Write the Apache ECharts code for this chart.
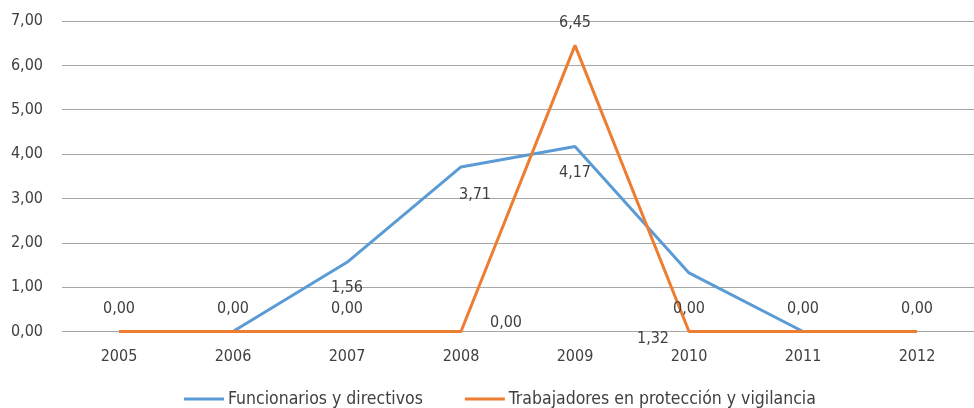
<!DOCTYPE html>
<html>
<head>
<meta charset="utf-8">
<script src="https://cdn.jsdelivr.net/npm/echarts@6/dist/echarts.min.js"></script>
<style>
  html, body { margin: 0; padding: 0; background: #fff; }
  #chart { width: 974px; height: 408px; }
</style>
</head>
<body>
<div id="chart"></div>
<script>
// Years on the category axis
const years = ['2005', '2006', '2007', '2008', '2009', '2010', '2011', '2012'];

// Series values
const funcionarios = [0, 0, 1.56, 3.71, 4.17, 1.32, 0, 0];
const trabajadores = [0, 0, 0, 0, 6.45, 0, 0, 0];

// Value axis ticks
const yTicks = [0, 1, 2, 3, 4, 5, 6, 7];

const seriesNames = ['Funcionarios y directivos', 'Trabajadores en protección y vigilancia'];

// Label placement per point (kept apart from the values)
const blueLabelPlacement = [
  { position: 'top' }, { position: 'top' }, { position: 'bottom' },
  { position: 'bottom', offset: [14, 2] }, { position: 'bottom' },
  { position: 'bottom', offset: [-36, 40] }, { position: 'top' }, { position: 'top' }
];
// Zero labels that sit exactly on top of the blue ones are drawn once
const orangeLabelPlacement = [
  { show: false }, { show: false }, { position: 'top' },
  { position: 'top', offset: [45, 14] }, { position: 'top' },
  { position: 'top' }, { show: false }, { show: false }
];

const fmt = v => Number(v).toFixed(2).replace('.', ',');
const font = '"Liberation Sans Narrow", "DejaVu Sans Condensed", Lato, sans-serif';
const fs = 16;
const textColor = '#404040';

function build(values, placement) {
  return values.map((v, i) => ({
    value: v,
    label: Object.assign({}, placement[i], {
      distance: placement[i].position === 'bottom' ? 18 : 15
    })
  }));
}

const chart = echarts.init(document.getElementById('chart'), null, { renderer: 'canvas' });
chart.setOption({
  animation: false,
  backgroundColor: '#ffffff',
  textStyle: { fontFamily: font },
  grid: { left: 62, width: 915, top: 21, bottom: 76.5, containLabel: false },
  legend: {
    top: 385,
    left: 179,
    itemGap: 42,
    itemWidth: 40,
    itemHeight: 3,
    icon: 'rect',
    textStyle: { fontFamily: font, fontSize: 17.5, color: textColor, padding: [0, 0, 0, -1] },
    data: seriesNames
  },
  xAxis: {
    type: 'category',
    data: years,
    boundaryGap: true,
    axisLine: { show: false },
    axisTick: { show: false },
    axisLabel: { fontFamily: font, fontSize: fs, color: textColor, margin: 17 }
  },
  yAxis: {
    type: 'value',
    min: yTicks[0],
    max: yTicks[yTicks.length - 1],
    interval: 1,
    axisLine: { show: false },
    axisTick: { show: false },
    axisLabel: { fontFamily: font, fontSize: fs, color: textColor, margin: 19, formatter: fmt },
    splitLine: { lineStyle: { color: '#a6a6a6', width: 1 } }
  },
  series: [
    {
      name: seriesNames[0],
      type: 'line',
      data: build(funcionarios, blueLabelPlacement),
      symbol: 'circle',
      symbolSize: 0,
      color: '#5B9BD5',
      lineStyle: { color: '#5B9BD5', width: 3 },
      label: { show: true, fontFamily: font, fontSize: fs, color: textColor, formatter: p => fmt(p.value) },
      emphasis: { disabled: true },
      z: 2
    },
    {
      name: seriesNames[1],
      type: 'line',
      data: build(trabajadores, orangeLabelPlacement),
      symbol: 'circle',
      symbolSize: 0,
      color: '#ED7D31',
      lineStyle: { color: '#ED7D31', width: 3 },
      label: { show: true, fontFamily: font, fontSize: fs, color: textColor, formatter: p => fmt(p.value) },
      emphasis: { disabled: true },
      z: 3
    }
  ]
});
</script>
</body>
</html>
